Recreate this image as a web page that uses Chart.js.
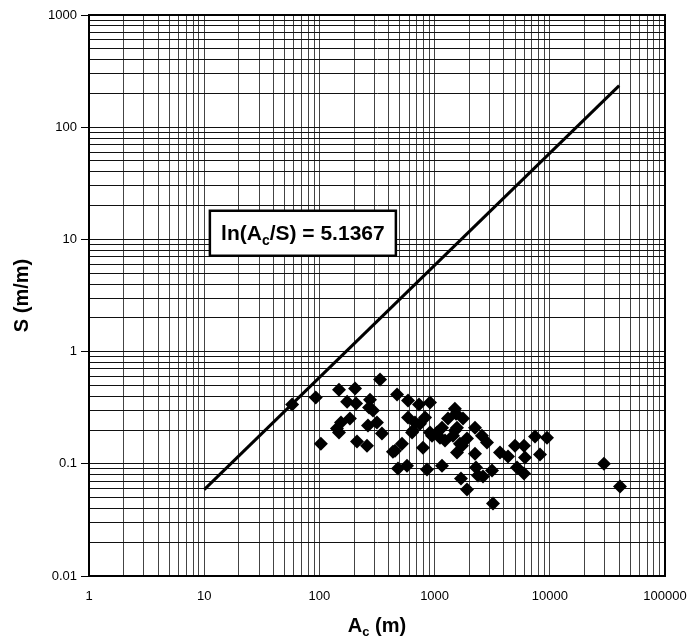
<!DOCTYPE html>
<html>
<head>
<meta charset="utf-8">
<script src="https://cdn.jsdelivr.net/npm/chart.js@4.4.1/dist/chart.umd.min.js"></script>
<style>
  html, body { margin: 0; padding: 0; background: #fff; }
  #wrap { width: 693px; height: 642px; }
</style>
</head>
<body>
<div id="wrap"><canvas id="chart"></canvas></div>
<script>
// measured points (Ac in m, S in m/m)
const acValues = [58, 93, 103, 148, 204, 336, 174, 208, 275, 270, 292, 184, 154, 142, 148, 316, 264, 349, 212, 259,
  472, 588, 732, 912, 588, 676, 826, 637, 793, 521, 453, 481, 576, 859, 1160, 1500, 1765, 1307, 1050, 1231,
  1445, 1729, 1911, 2243, 2243, 2577, 949, 1160, 2851, 3698, 4335, 4988, 5970, 6093, 7444, 9459, 8222, 2287,
  3148, 2381, 2631, 5191, 5970, 1694, 1911, 3213, 29500, 40700, 747, 650, 912, 1114, 1565, 1565, 1503, 1660,
  435, 1535];
const sValues = [0.337, 0.389, 0.151, 0.458, 0.468, 0.563, 0.358, 0.344, 0.373, 0.317, 0.298, 0.253, 0.233, 0.206,
  0.190, 0.233, 0.219, 0.186, 0.158, 0.145, 0.414, 0.366, 0.337, 0.351, 0.258, 0.233, 0.258, 0.190, 0.139, 0.151,
  0.131, 0.091, 0.096, 0.089, 0.096, 0.310, 0.253, 0.253, 0.190, 0.161, 0.178, 0.145, 0.168, 0.210, 0.123, 0.178,
  0.178, 0.210, 0.155, 0.126, 0.116, 0.145, 0.145, 0.114, 0.175, 0.171, 0.121, 0.0925, 0.087, 0.0785, 0.0769,
  0.0925, 0.0818, 0.0738, 0.0589, 0.0442, 0.100, 0.0626, 0.228, 0.198, 0.190, 0.171, 0.210, 0.126, 0.198, 0.151,
  0.128, 0.280];

// fitted line ln(Ac/S) = 5.1367
const lineAc = [10, 40000];
const lineS = [0.0588, 235];

const xDecades = [1, 10, 100, 1000, 10000, 100000];
const yDecades = [0.01, 0.1, 1, 10, 100, 1000];
const xTickLabels = ['1', '10', '100', '1000', '10000', '100000'];
const yTickLabels = ['0.01', '0.1', '1', '10', '100', '1000'];
const fitParts = ['ln(A', 'c', '/S) = 5.1367'];
const xTitleParts = ['A', 'c', ' (m)'];
const yTitle = 'S (m/m)';

function logTicks(decades) {
  const t = [];
  decades.forEach((d, i) => {
    if (i === decades.length - 1) { t.push(d); return; }
    for (let m = 1; m < 10; m++) t.push(+(d * m).toPrecision(3));
  });
  return t.map(v => ({ value: v }));
}

function decadeIndex(decades, v) {
  return decades.findIndex(d => Math.abs(d - v) / d < 1e-6);
}

function drawParts(ctx, parts, x, y, big, small) {
  // parts = [normal, subscript, normal]
  ctx.font = 'bold ' + big + 'px "Liberation Sans", Arial, sans-serif';
  const w0 = ctx.measureText(parts[0]).width;
  const w2 = ctx.measureText(parts[2]).width;
  ctx.font = 'bold ' + small + 'px "Liberation Sans", Arial, sans-serif';
  const w1 = ctx.measureText(parts[1]).width;
  let cx = x - (w0 + w1 + w2) / 2;
  ctx.textAlign = 'left';
  ctx.textBaseline = 'alphabetic';
  ctx.font = 'bold ' + big + 'px "Liberation Sans", Arial, sans-serif';
  ctx.fillText(parts[0], cx, y);
  cx += w0;
  ctx.font = 'bold ' + small + 'px "Liberation Sans", Arial, sans-serif';
  ctx.fillText(parts[1], cx, y + big * 0.22);
  cx += w1;
  ctx.font = 'bold ' + big + 'px "Liberation Sans", Arial, sans-serif';
  ctx.fillText(parts[2], cx, y);
}

const decorPlugin = {
  id: 'decor',
  afterDatasetsDraw(chart) {
    const { ctx, chartArea: a, scales } = chart;
    ctx.save();
    // frame
    ctx.strokeStyle = '#000';
    ctx.lineWidth = 2;
    ctx.strokeRect(a.left, a.top, a.right - a.left, a.bottom - a.top);

    // equation box
    const bx = scales.x.getPixelForValue(11.2);
    const by = scales.y.getPixelForValue(18);
    const bw = 186, bh = 45;
    ctx.fillStyle = '#fff';
    ctx.fillRect(bx, by, bw, bh);
    ctx.lineWidth = 2.5;
    ctx.strokeRect(bx, by, bw, bh);
    ctx.fillStyle = '#000';
    drawParts(ctx, fitParts, bx + bw / 2, by + bh / 2 + 7, 21, 14);

    // x title
    drawParts(ctx, xTitleParts, (a.left + a.right) / 2, 632, 20, 13);

    // y title
    ctx.translate(22, (a.top + a.bottom) / 2);
    ctx.rotate(-Math.PI / 2);
    ctx.font = 'bold 20px "Liberation Sans", Arial, sans-serif';
    ctx.textAlign = 'center';
    ctx.textBaseline = 'middle';
    ctx.fillText(yTitle, 0, 0);
    ctx.restore();
  }
};

const ctx = document.getElementById('chart').getContext('2d');
new Chart(ctx, {
  type: 'scatter',
  data: {
    datasets: [
      {
        label: 'data',
        data: acValues.map((v, i) => ({ x: v, y: sValues[i] })),
        pointStyle: 'rectRot',
        pointRadius: 7,
        pointHoverRadius: 7,
        backgroundColor: '#000',
        borderColor: '#000',
        borderWidth: 0
      },
      {
        label: 'fit',
        type: 'line',
        data: lineAc.map((v, i) => ({ x: v, y: lineS[i] })),
        borderColor: '#000',
        borderWidth: 3,
        pointRadius: 0,
        fill: false
      }
    ]
  },
  options: {
    responsive: true,
    maintainAspectRatio: false,
    animation: false,
    layout: { padding: { top: 15, right: 28, left: 0, bottom: 0 } },
    plugins: { legend: { display: false }, tooltip: { enabled: false } },
    scales: {
      x: {
        type: 'logarithmic',
        min: 1,
        max: 100000,
        afterBuildTicks: s => { s.ticks = logTicks(xDecades); },
        afterFit: s => { s.height = 66; s.paddingLeft = 0; s.paddingRight = 0; },
        grid: {
          color: '#444',
          lineWidth: 1,
          drawTicks: false
        },
        border: { color: '#000', width: 2 },
        ticks: {
          autoSkip: false,
          maxRotation: 0,
          padding: 13,
          color: '#000',
          font: { size: 13, family: '"Liberation Sans", Arial, sans-serif' },
          callback: v => {
            const i = decadeIndex(xDecades, v);
            return i >= 0 ? xTickLabels[i] : '';
          }
        }
      },
      y: {
        type: 'logarithmic',
        min: 0.01,
        max: 1000,
        afterBuildTicks: s => { s.ticks = logTicks(yDecades); },
        afterFit: s => { s.width = 89; s.paddingTop = 0; s.paddingBottom = 0; },
        grid: {
          color: '#111',
          lineWidth: 1,
          tickLength: 8,
          tickColor: c => (c.tick && decadeIndex(yDecades, c.tick.value) >= 0 ? '#000' : 'rgba(0,0,0,0)')
        },
        border: { color: '#000', width: 2 },
        ticks: {
          autoSkip: false,
          padding: 4,
          color: '#000',
          font: { size: 13, family: '"Liberation Sans", Arial, sans-serif' },
          callback: v => {
            const i = decadeIndex(yDecades, v);
            return i >= 0 ? yTickLabels[i] : '';
          }
        }
      }
    }
  },
  plugins: [decorPlugin]
});
</script>
</body>
</html>
